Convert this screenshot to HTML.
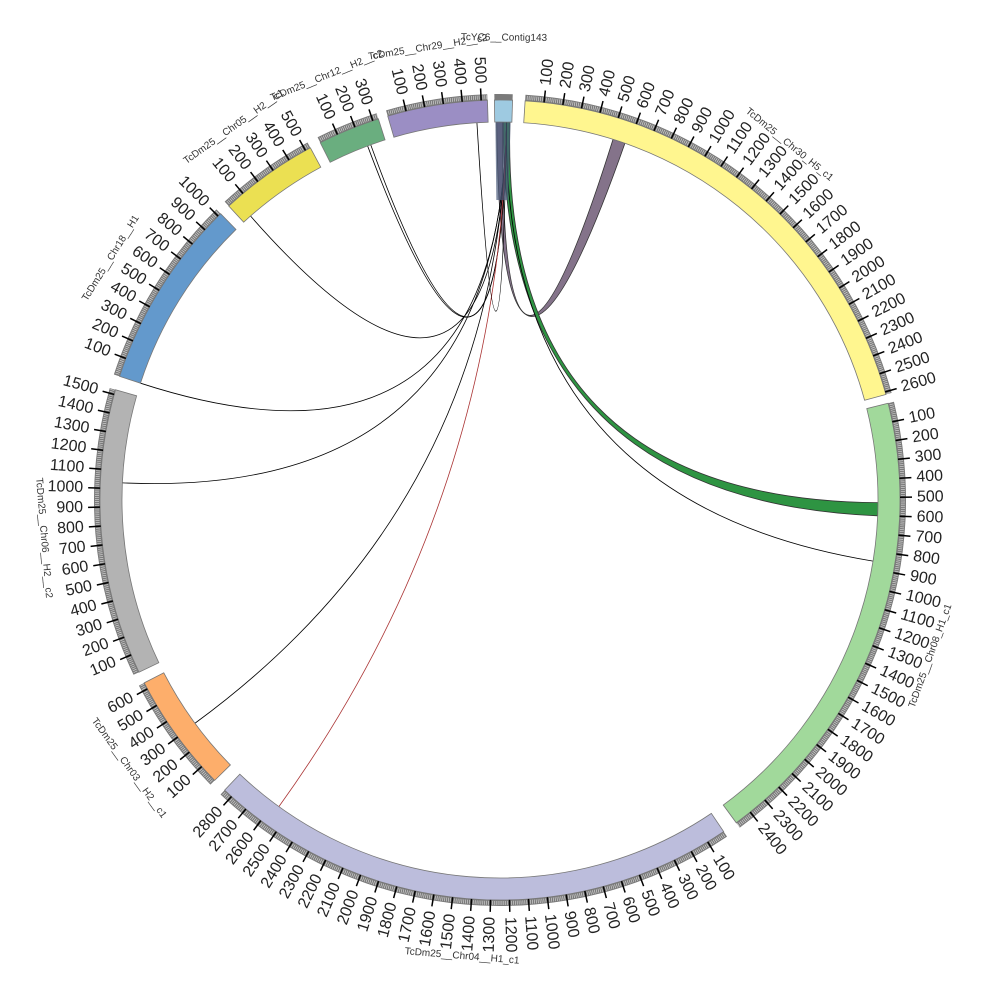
<!DOCTYPE html>
<html><head><meta charset="utf-8"><style>
html,body{margin:0;padding:0;background:#fff;}
svg{display:block;font-family:"Liberation Sans",sans-serif;}
</style></head><body>
<svg id="s" width="1000" height="1000" viewBox="0 0 1000 1000" xmlns="http://www.w3.org/2000/svg"></svg>
<script>
var s=document.getElementById('s'),NS='http://www.w3.org/2000/svg';
var cx=500,cy=500,R0=378,R1=400,K=0.0272;
function P(a,r){var t=a*Math.PI/180;return [cx+r*Math.sin(t),cy-r*Math.cos(t)];}
function el(n,at,txt){var e=document.createElementNS(NS,n);for(var k in at)e.setAttribute(k,at[k]);if(txt!=null)e.textContent=txt;s.appendChild(e);return e;}
function arcPath(a1,a2,r1,r2){var p1=P(a1,r2),p2=P(a2,r2),p3=P(a2,r1),p4=P(a1,r1);var lg=(a2-a1)>180?1:0;
return 'M'+p1+' A'+r2+','+r2+' 0 '+lg+' 1 '+p2+' L'+p3+' A'+r1+','+r1+' 0 '+lg+' 0 '+p4+'Z';}
var segs=[
 {n:'TcYC6__Contig143',s:-0.8,e:1.8,c:'#9ecae1',step:0},
 {n:'TcDm25__Chr30_H5_c1',s:3.6,e:74.7,c:'#fff68f',step:100},
 {n:'TcDm25__Chr08_H1_c1',s:76,e:143.8,c:'#a1d99b',step:100},
 {n:'TcDm25__Chr04__H1_c1',s:146,e:223.5,c:'#bcbddc',step:100},
 {n:'TcDm25__Chr03__H2__c1',s:225.5,e:242.8,c:'#fdae6b',step:100},
 {n:'TcDm25__Chr06__H2__c2',s:244.5,e:286,c:'#b3b3b3',step:100},
 {n:'TcDm25__Chr18__H1',s:288,e:315.7,c:'#6399cc',step:100},
 {n:'TcDm25__Chr05__H2__c1',s:317.3,e:331.7,c:'#ebe052',step:100},
 {n:'TcDm25__Chr12__H2__c2',s:333.3,e:342.3,c:'#6aae7f',step:100},
 {n:'TcDm25__Chr29__H2__c2',s:343.7,e:358.2,c:'#9b8ec4',step:100}
];
// links
function rib(a1,a2,b1,b2,col){var p1=P(a1,R0),p2=P(a2,R0),q1=P(b1,R0),q2=P(b2,R0);
 var d='M'+p1+' A'+R0+','+R0+' 0 0 1 '+p2+' Q'+cx+','+cy+' '+q1+' A'+R0+','+R0+' 0 0 1 '+q2+' Q'+cx+','+cy+' '+p1+'Z';
 el('path',{d:d,fill:col,stroke:'#333','stroke-width':0.8});}
function line(a,b,col){var p=P(a,R0),q=P(b,R0);el('path',{d:'M'+p+' Q'+cx+','+cy+' '+q,fill:'none',stroke:col,'stroke-width':0.8});}
rib(-0.5,0.4,17.4,19.3,'#84738a');
rib(0.5,1.5,90.4,92.4,'#2e9442');
el('path',{d:arcPath(-0.6,1.6,0,R0)+'',fill:'none'});
var tl=[[318.7,'#000'],[340,'#000'],[339.5,'#000'],[288,'#000'],[272.6,'#000'],[233.8,'#000'],[215.8,'#a33'],[99.3,'#000'],[356.5,'#000']];
tl.forEach(function(t){line(1,t[0],t[1]);});
// contig inner stub (dark)
el('path',{d:'M'+P(-0.7,R0)+' L'+P(-0.7,300)+' L'+P(1.6,300)+' L'+P(1.6,R0)+'Z',fill:'#4a5a7a',opacity:0.7});
segs.forEach(function(g){
 el('path',{d:arcPath(g.s,g.e,R0,R1),fill:g.c,stroke:'#777','stroke-width':0.8});
 el('path',{d:arcPath(g.s,g.e,R1,R1+6),fill:'#7a7a7a'});
 if(g.step){
  for(var v=10;g.s+v*K<=g.e+0.01;v+=10){var a=g.s+v*K;
   if(v%100){var p=P(a,R1+1),q=P(a,R1+5);el('line',{x1:p[0],y1:p[1],x2:q[0],y2:q[1],stroke:'#ddd','stroke-width':0.6});}}
  for(var v=100;g.s+v*K<=g.e;v+=100){var a=g.s+v*K;var p=P(a,R1),q=P(a,R1+12);
   el('line',{x1:p[0],y1:p[1],x2:q[0],y2:q[1],stroke:'#000','stroke-width':1.5});
   var t=P(a,R1+17);var rot,anc;
   if(a%360<180){rot=a-90;anc='start';}else{rot=a+90;anc='end';}
   el('text',{x:t[0],y:t[1],'font-size':16,fill:'#222','text-anchor':anc,'dominant-baseline':'central',transform:'rotate('+rot+' '+t[0]+' '+t[1]+')'},String(v));}
 }
 var m=(g.s+g.e)/2,mm=((m%360)+360)%360,t=P(m,g.step?458:462),r=(mm>90&&mm<270)?m-180:m;
 el('text',{x:t[0],y:t[1],'font-size':10,fill:'#333','text-anchor':'middle','dominant-baseline':'central',transform:'rotate('+r+' '+t[0]+' '+t[1]+')'},g.n);
});
</script>
</body></html>
